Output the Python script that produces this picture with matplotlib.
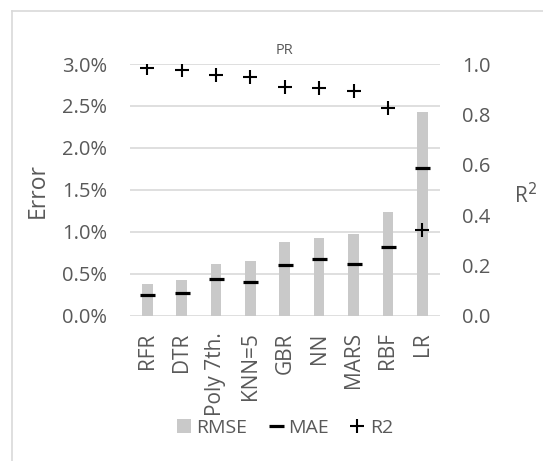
import numpy as np
import matplotlib.pyplot as plt
from matplotlib.lines import Line2D
from matplotlib.ticker import PercentFormatter

# data
models = ["RFR", "DTR", "Poly 7th.", "KNN=5", "GBR", "NN", "MARS", "RBF", "LR"]
rmse = [0.00378, 0.00425, 0.00616, 0.00657, 0.00884, 0.00924, 0.00976, 0.0124, 0.0243]
mae = [0.0025, 0.00274, 0.00434, 0.0040, 0.00607, 0.00675, 0.00615, 0.00822, 0.01757]
r2 = [0.983, 0.976, 0.955, 0.949, 0.908, 0.904, 0.891, 0.826, 0.340]

txt = "#595959"
plt.rcParams['font.family'] = ['Open Sans', 'DejaVu Sans']

W, H = 543, 461
fig = plt.figure(figsize=(W / 100, H / 100), dpi=100)
ax = fig.add_axes([130 / W, 1 - 315.7 / H, 309.5 / W, 251.7 / H])
x = np.arange(len(models))

bars = ax.bar(x, rmse, width=0.31, color="#C9C9C9", zorder=2)
mae_line, = ax.plot(x, mae, ls="none", marker="_", ms=10.8, mew=2.3, color="black", zorder=3)
ax.set_ylim(0, 0.03)
ax.set_xlim(-0.5, len(models) - 0.5)
ax.set_yticks(np.arange(0, 0.0301, 0.005))
ax.yaxis.set_major_formatter(PercentFormatter(1.0, decimals=1))
ax.grid(axis="y", color="#D9D9D9", lw=1.2, zorder=0)
ax.set_axisbelow(True)
for s in ax.spines.values():
    s.set_visible(False)
ax.tick_params(axis="y", length=0, labelsize=14.5, colors=txt, pad=16.5)
ax.set_xticks(x)
ax.set_xticklabels(models, rotation=90, fontsize=15)
ax.tick_params(axis="x", length=0, colors=txt, pad=12)
ax.set_title("PR", fontsize=10.5, color=txt, pad=7)

ax2 = ax.twinx()
r2_line, = ax2.plot(x, r2, ls="none", marker="+", ms=10, mew=1.5, color="black", zorder=4)
ax2.set_ylim(0, 1.0)
ax2.set_yticks(np.arange(0, 1.01, 0.2))
ax2.yaxis.set_major_formatter(lambda v, p: f"{v:.1f}")
for s in ax2.spines.values():
    s.set_visible(False)
ax2.tick_params(length=0, labelsize=14.5, colors=txt, pad=16.5)

fig.text(37.5 / W, 1 - 190 / H, "Error", rotation=90, fontsize=16.5, color=txt,
         ha="center", va="center")
fig.text(525 / W, 1 - 196 / H, "R$^2$", fontsize=15, color=txt,
         ha="center", va="center")

fig.legend(handles=[bars, mae_line, r2_line], labels=["RMSE", "MAE", "R2"],
           loc="center", bbox_to_anchor=(285 / W, 1 - 428 / H), ncol=3,
           frameon=False, fontsize=14, labelcolor=txt, handlelength=0.7,
           handleheight=0.7, handletextpad=0.3, columnspacing=1.1,
           borderpad=0, borderaxespad=0)

# chart-area border (cropped: only top and left edges show)
fig.add_artist(Line2D([12 / W, 12 / W], [0, 1 - 11 / H], color="#D9D9D9", lw=1.2))
fig.add_artist(Line2D([12 / W, 1], [1 - 11 / H, 1 - 11 / H], color="#D9D9D9", lw=1.2))

fig.savefig("out.png", dpi=100)
